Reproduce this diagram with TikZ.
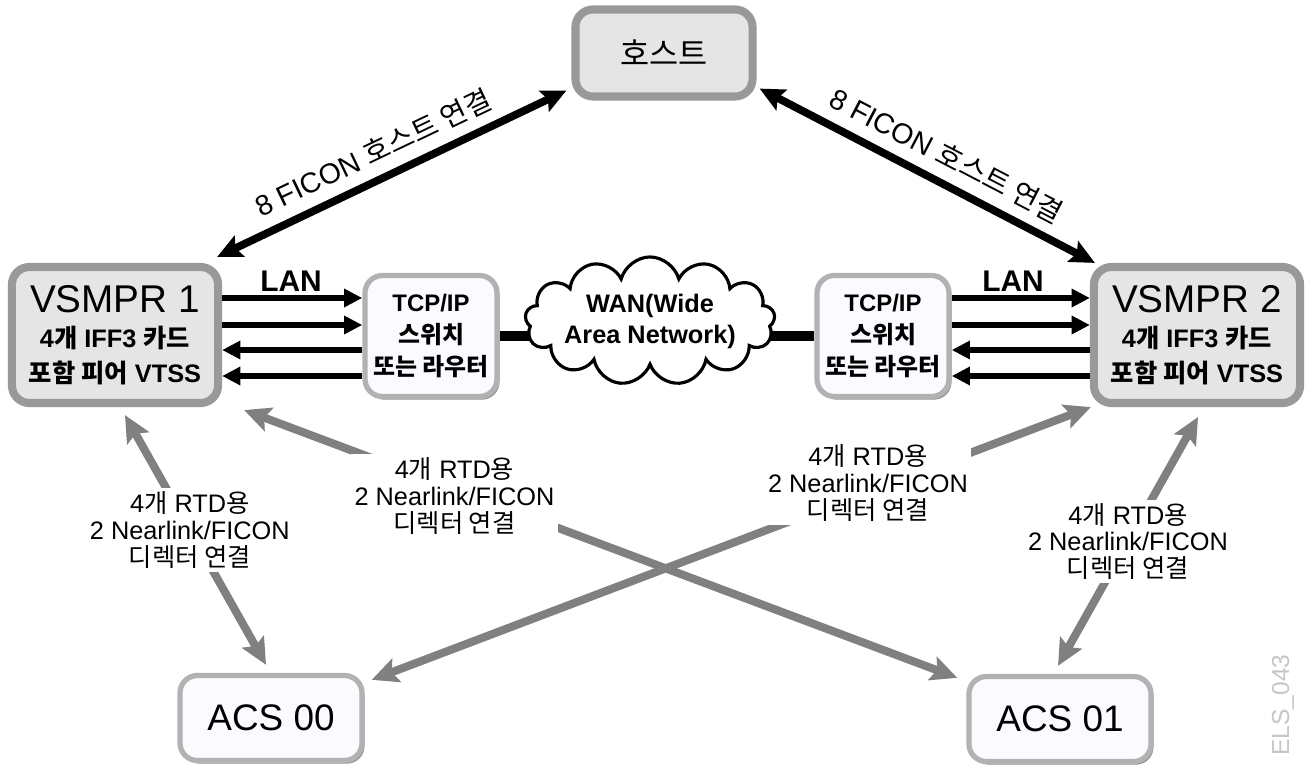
\documentclass[tikz,border=0pt]{standalone}
\usepackage{fontspec}
\setmainfont{Liberation Sans}
\newfontfamily\krfont{Noto Sans CJK KR}
\newcommand{\kor}[1]{{\krfont #1}}
\usetikzlibrary{arrows.meta,calc,shapes.symbols,shadows}

% repeated box and label texts
\newcommand{\vsmprtext}[1]{{\mdseries\fontsize{11}{12}\selectfont VSMPR #1}\\4\kor{개} IFF3 \kor{카드}\\\kor{포함 피어} VTSS}
\newcommand{\tcptext}{TCP/IP\\\kor{스위치}\\\kor{또는 라우터}}
\newcommand{\rtdlabel}{4\kor{개} RTD\kor{용}\\2 Nearlink/FICON\\\kor{디렉터 연결}}

\tikzset{
  hosttip/.tip={Stealth[length=7pt,width=6.5pt,inset=1.2pt]},
  lantip/.tip={Triangle[length=5.2pt,width=5pt]},
  rtdtip/.tip={Stealth[length=7.5pt,width=7pt,inset=1.4pt]},
  graybox/.style={draw=gray!80, line width=2.3pt, fill=gray!20, rounded corners=5pt, inner sep=0pt, align=center},
  softbox/.style={draw=gray!60, line width=1.5pt, fill=blue!2, rounded corners=5pt, inner sep=0pt, align=center,
    drop shadow={shadow xshift=.7pt, shadow yshift=-.9pt, fill=black!60, opacity=.7}},
  vsmprsize/.style={minimum width=2.06cm, minimum height=1.36cm, font=\bfseries\fontsize{7.2}{10}\selectfont},
  tcpsize/.style={minimum width=1.32cm, minimum height=1.21cm, font=\bfseries\fontsize{6.8}{9}\selectfont},
  acssize/.style={minimum width=1.82cm, minimum height=0.85cm, font=\fontsize{10.5}{12}\selectfont},
  wancloud/.style={cloud, cloud puffs=13, cloud ignores aspect, draw, line width=0.9pt, fill=white, inner sep=0pt,
    minimum width=2.1cm, minimum height=1.28cm, align=center, font=\bfseries\fontsize{7.2}{8.8}\selectfont},
  hostlink/.style={line width=2.2pt, hosttip-hosttip},
  hostnote/.style={font=\fontsize{8.1}{9}\selectfont, inner sep=3pt},
  lanlink/.style={line width=1.7pt},
  lannote/.style={font=\bfseries\fontsize{8.5}{10}\selectfont},
  wanlink/.style={line width=2.8pt},
  rtdlink/.style={draw=gray, line width=2.3pt, rtdtip-rtdtip},
  rtdnote/.style={fill=white, inner sep=1pt, align=center, font=\fontsize{7.2}{7.6}\selectfont},
  elsnote/.style={rotate=90, text=gray!45, font=\fontsize{7}{8}\selectfont}
}

\begin{document}
\begin{tikzpicture}[x=0.01cm, y=-0.01cm]
\useasboundingbox (0,0) rectangle (1306,767);

% boxes
\node[graybox, minimum width=1.77cm, minimum height=0.87cm, font=\krfont\fontsize{9}{10}\selectfont] (host) at (664,53) {호스트};
\node[graybox, vsmprsize] (v1) at (115,335) {\vsmprtext{1}};
\node[graybox, vsmprsize] (v2) at (1197,335) {\vsmprtext{2}};
\node[softbox, tcpsize] (tcp1) at (431,336) {\tcptext};
\node[softbox, tcpsize] (tcp2) at (883,336) {\tcptext};
\node[softbox, acssize] (acs0) at (271,718) {ACS 00};
\node[softbox, acssize] (acs1) at (1060,719) {ACS 01};

% WAN
\coordinate (wanc) at (650,321);
\draw[wanlink] (tcp1.east) -- (wanc |- tcp1.east) -- (tcp2.west);
\node[wancloud] (wan) at (wanc) {WAN(Wide\\Area Network)};

% LAN
\foreach \yy in {298,325}{
  \coordinate (lane) at (0,\yy);
  \draw[lanlink,-lantip] (v1.east |- lane) -- (tcp1.west |- lane);
  \draw[lanlink,-lantip] (tcp2.east |- lane) -- (v2.west |- lane);
}
\foreach \yy in {350,376}{
  \coordinate (lane) at (0,\yy);
  \draw[lanlink,lantip-] (v1.east |- lane) -- (tcp1.west |- lane);
  \draw[lanlink,lantip-] (tcp2.east |- lane) -- (v2.west |- lane);
}
\node[lannote] (lan1) at (291,281) {LAN};
\node[lannote] (lan2) at (1013,281) {LAN};

% host links
\draw[hostlink] ($(v1.north east)+(-5,-6)$) -- node[hostnote, sloped, above, pos=.48] (hl1) {8 FICON \kor{호스트 연결}} ($(host.south west)+(-5,-10)$);
\draw[hostlink] ($(host.south east)+(3,-12)$) -- node[hostnote, sloped, above, pos=.52] (hl2) {8 FICON \kor{호스트 연결}} ($(v2.north west)+(5,0)$);

% RTD links
\draw[rtdlink] ($(v1.south)+(10,8)$) -- node[rtdnote, pos=.46] (r1) {\rtdlabel} ($(acs0.north)+(-5,-8)$);
\draw[rtdlink] ($(v1.south east)+(22,3)$) -- node[rtdnote, pos=.295, yshift=-2pt] (r2) {\rtdlabel} ($(acs1.north west)+(-9,4)$);
\draw[rtdlink] ($(acs0.north east)+(7,7)$) -- node[rtdnote, pos=.69, yshift=2.5pt] (r3) {\rtdlabel} ($(v2.south west)+(1,0)$);
\draw[rtdlink] ($(v2.south)+(1,10)$) -- node[rtdnote, pos=.5] (r4) {\rtdlabel} ($(acs1.north)+(-2,-8)$);

\node[elsnote] (els) at (1283,705) {ELS\_043};
\end{tikzpicture}
\end{document}
